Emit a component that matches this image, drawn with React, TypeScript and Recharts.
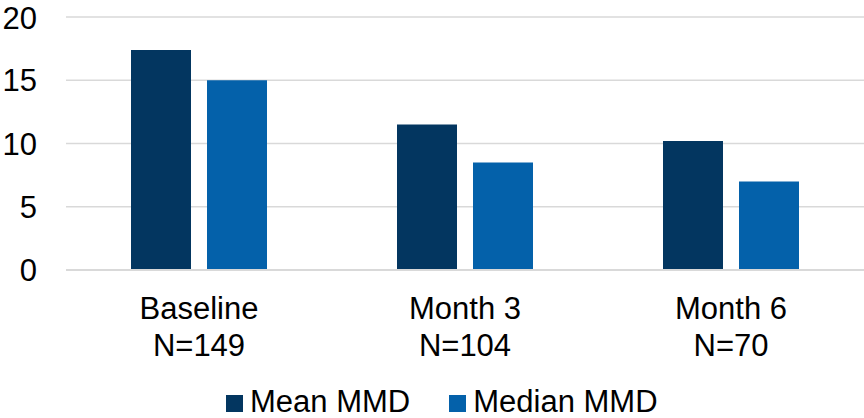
import React from 'react';
import { BarChart, Bar, XAxis, YAxis, CartesianGrid } from 'recharts';

const categories = ['Baseline', 'Month 3', 'Month 6'];
const nLabels = ['N=149', 'N=104', 'N=70'];
const meanMMD = [17.4, 11.5, 10.2];
const medianMMD = [15.0, 8.5, 7.0];
const yTicks = [0, 5, 10, 15, 20];
const seriesNames = ['Mean MMD', 'Median MMD'];
const seriesColors = ['#033660', '#0461AA'];

const data = categories.map((c, i) => ({
  name: c,
  n: nLabels[i],
  mean: meanMMD[i],
  median: medianMMD[i],
}));

const FONT = '"Liberation Sans", Arial, sans-serif';

const XTick = (props: any) => {
  const { x, y, payload, index } = props;
  return (
    <text x={x} y={y} textAnchor="middle" fill="#000" fontSize={31} fontFamily={FONT}>
      <tspan x={x} y={y + 49}>{payload.value}</tspan>
      <tspan x={x} y={y + 86}>{nLabels[index]}</tspan>
    </text>
  );
};

export default function App() {
  return (
    <div style={{ position: 'absolute', left: 0, top: 0, width: 864, height: 418, background: '#fff', fontFamily: FONT, overflow: 'hidden' }}>
      <BarChart
        width={864}
        height={418}
        data={data}
        margin={{ top: 17, right: 0, left: 0, bottom: 0 }}
        barCategoryGap={65}
        barGap={16}
      >
        <CartesianGrid vertical={false} stroke="#d9d9d9" strokeWidth={1.5} />
        <XAxis
          dataKey="name"
          height={148}
          tickLine={false}
          tickSize={0}
          tickMargin={0}
          axisLine={{ stroke: '#d9d9d9', strokeWidth: 2 }}
          tick={<XTick />}
          interval={0}
        />
        <YAxis
          width={66}
          domain={[0, 20]}
          ticks={yTicks}
          tickLine={false}
          axisLine={false}
          tickSize={0}
          tickMargin={29}
          tick={{ fill: '#000', fontSize: 31, fontFamily: FONT }}
        />
        <Bar dataKey="mean" name={seriesNames[0]} fill={seriesColors[0]} isAnimationActive={false} />
        <Bar dataKey="median" name={seriesNames[1]} fill={seriesColors[1]} isAnimationActive={false} />
      </BarChart>
      <div
        style={{
          position: 'absolute',
          left: 226,
          top: 387,
          height: 30,
          display: 'flex',
          alignItems: 'center',
          fontSize: 31,
          lineHeight: '30px',
          color: '#000',
          whiteSpace: 'nowrap',
        }}
      >
        {seriesNames.map((s, i) => (
          <div key={s} style={{ display: 'flex', alignItems: 'center', marginRight: i === 0 ? 39 : 0 }}>
            <div style={{ width: 17, height: 17, background: seriesColors[i], marginRight: 7, marginTop: 3 }} />
            <span>{s}</span>
          </div>
        ))}
      </div>
    </div>
  );
}
